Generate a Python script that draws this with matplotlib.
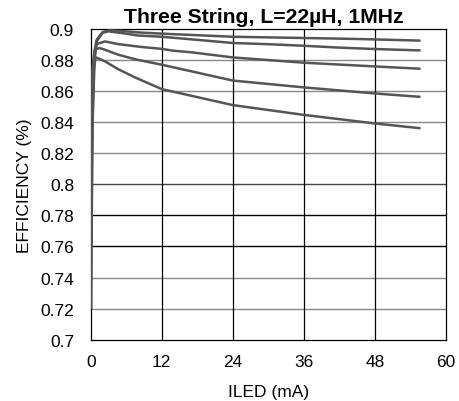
import matplotlib
matplotlib.use("Agg")
import matplotlib.pyplot as plt

plt.rcParams['font.family'] = ['Liberation Sans', 'DejaVu Sans']

# LED current (mA) and efficiency for the five test conditions
iled_1 = [0.1, 0.3, 0.6, 1, 2, 3, 4, 6, 8, 12, 18, 24, 30, 36, 42, 48, 55.7]
eff_1 = [0.86, 0.875, 0.885, 0.893, 0.898, 0.899, 0.899, 0.8985, 0.8978,
         0.897, 0.896, 0.895, 0.8946, 0.8942, 0.8938, 0.8933, 0.8925]

iled_2 = [0.1, 0.3, 0.6, 1, 2, 3, 4, 6, 8, 12, 18, 24, 30, 36, 42, 48, 55.7]
eff_2 = [0.84, 0.86, 0.878, 0.892, 0.8975, 0.8985, 0.898, 0.897, 0.8958,
         0.895, 0.893, 0.891, 0.8902, 0.8892, 0.888, 0.8871, 0.8862]

iled_3 = [0.1, 0.3, 0.6, 1, 2.4, 4.6, 8.4, 12, 14, 17, 24, 36, 48, 55.7]
eff_3 = [0.80, 0.85, 0.882, 0.8903, 0.892, 0.8903, 0.8885, 0.8872, 0.886,
         0.885, 0.8817, 0.8783, 0.8759, 0.8744]

iled_4 = [0.1, 0.3, 0.73, 1.57, 2.5, 4.6, 7.5, 12, 24, 36, 48, 55.7]
eff_4 = [0.76, 0.84, 0.887, 0.8877, 0.8865, 0.8835, 0.8805, 0.877, 0.8668,
         0.8624, 0.8585, 0.8563]

iled_5 = [0.1, 0.25, 0.5, 0.9, 2.4, 4.6, 7.5, 12, 24, 36, 48, 55.7]
eff_5 = [0.72, 0.82, 0.876, 0.8817, 0.8792, 0.8742, 0.8688, 0.8613,
         0.851, 0.8447, 0.8392, 0.8361]

x_ticks = [0, 12, 24, 36, 48, 60]
y_ticks = [0.7, 0.72, 0.74, 0.76, 0.78, 0.8, 0.82, 0.84, 0.86, 0.88, 0.9]
y_grid_colors = ['black', '#888888', '#888888', 'black', 'black', '#444444',
                 '#888888', '#888888', '#888888', '#888888', 'black']

fig = plt.figure(figsize=(4.59, 4.02), dpi=100)
ax = fig.add_axes([0.1976, 0.1525, 0.7741, 0.7729])

ax.set_xlim(0, 60)
ax.set_ylim(0.7, 0.9)

for yv, c in zip(y_ticks[1:-1], y_grid_colors[1:-1]):
    ax.axhline(yv, color=c, lw=1.0, zorder=1)
for xv in x_ticks[1:-1]:
    ax.axvline(xv, color='black', lw=0.9, zorder=1)

line_color = '#555555'
for xs, ys in [(iled_1, eff_1), (iled_2, eff_2), (iled_3, eff_3),
               (iled_4, eff_4), (iled_5, eff_5)]:
    ax.plot(xs, ys, color=line_color, lw=1.8, zorder=3,
            solid_capstyle='butt', solid_joinstyle='round')

ax.set_xticks(x_ticks)
ax.set_yticks(y_ticks)
ax.set_yticklabels(['%g' % v for v in y_ticks])
ax.tick_params(length=0, labelsize=12.5)
ax.tick_params(axis='x', pad=10)
ax.tick_params(axis='y', pad=12)

for s in ax.spines.values():
    s.set_color('black')
    s.set_linewidth(0.9)

ax.set_xlabel('ILED (mA)', fontsize=12.5, labelpad=11)
ax.set_ylabel('EFFICIENCY (%)', fontsize=12.5, labelpad=6)
ax.set_title('Three String, L=22µH, 1MHz', fontsize=15.2,
             fontweight='bold', pad=5, x=0.486)

fig.savefig('out.png', dpi=100)
